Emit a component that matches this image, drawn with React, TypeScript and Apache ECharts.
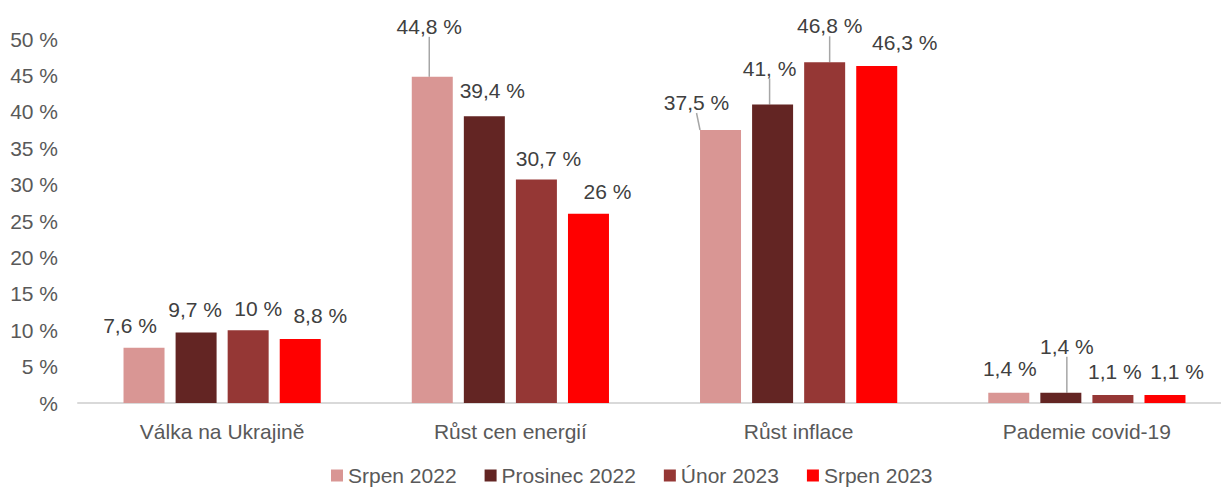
import React, { useEffect, useRef } from "react";
import * as echarts from "echarts";

const CATEGORIES = ["Válka na Ukrajině", "Růst cen energií", "Růst inflace", "Pademie covid-19"];
const SERIES_NAMES = ["Srpen 2022", "Prosinec 2022", "Únor 2023", "Srpen 2023"];
const SRPEN_2022 = [7.6, 44.8, 37.5, 1.4];
const PROSINEC_2022 = [9.7, 39.4, 41.0, 1.4];
const UNOR_2023 = [10.0, 30.7, 46.8, 1.1];
const SRPEN_2023 = [8.8, 26.0, 46.3, 1.1];
const SRPEN_2022_LABELS = ["7,6 %", "44,8 %", "37,5 %", "1,4 %"];
const PROSINEC_2022_LABELS = ["9,7 %", "39,4 %", "41, %", "1,4 %"];
const UNOR_2023_LABELS = ["10 %", "30,7 %", "46,8 %", "1,1 %"];
const SRPEN_2023_LABELS = ["8,8 %", "26 %", "46,3 %", "1,1 %"];
const Y_TICKS = [0, 5, 10, 15, 20, 25, 30, 35, 40, 45, 50];

const COLORS = ["#D99694", "#632523", "#953735", "#FF0000"];

// label displacement (dx, dy) per series / category, and which labels get a leader line
const LABEL_SHIFT = [
  [[-14, -7], [-3, -35], [-24, -12], [1, -9]],
  [[-1, -7], [8, -10], [-3, -21], [6, -31]],
  [[10, -6], [12, -6], [5, -21], [2, -8]],
  [[20, -8], [19, -7], [28, -8], [12, -8]],
];
const LEADER = [
  [false, true, true, false],
  [false, false, true, true],
  [false, false, true, false],
  [false, false, false, false],
];

export default function App() {
  const ref = useRef<HTMLDivElement>(null);
  useEffect(() => {
    if (!ref.current) return;
    const chart = echarts.init(ref.current, undefined, { renderer: "svg" });
    const values = [SRPEN_2022, PROSINEC_2022, UNOR_2023, SRPEN_2023];
    const labels = [SRPEN_2022_LABELS, PROSINEC_2022_LABELS, UNOR_2023_LABELS, SRPEN_2023_LABELS];
    const font = "Liberation Sans, Arial, sans-serif";
    const series = values.map((vals, si) => ({
      name: SERIES_NAMES[si],
      type: "bar",
      barWidth: 41,
      barGap: "27%",
      itemStyle: { color: COLORS[si] },
      data: vals.map((v, di) => ({
        value: v,
        labelLine: { show: LEADER[si][di] },
      })),
      label: {
        show: true,
        position: "top",
        distance: 5,
        color: "#404040",
        fontSize: 21,
        fontFamily: font,
        formatter: (p: any) => labels[si][p.dataIndex],
      },
      labelLine: {
        show: false,
        lineStyle: { color: "#A6A6A6", width: 1.5 },
      },
      labelLayout: (p: any) => ({
        dx: LABEL_SHIFT[si][p.dataIndex][0],
        dy: LABEL_SHIFT[si][p.dataIndex][1],
      }),
    }));
    chart.setOption({
      animation: false,
      textStyle: { fontFamily: font },
      grid: { left: 78, top: 39, right: 9, bottom: 84, containLabel: false },
      legend: {
        data: SERIES_NAMES,
        left: 326,
        top: 460,
        itemWidth: 12,
        itemHeight: 12,
        itemGap: 28,
        icon: "rect",
        textStyle: { color: "#595959", fontSize: 21, fontFamily: font },
      },
      xAxis: {
        type: "category",
        data: CATEGORIES,
        axisLine: { lineStyle: { color: "#D9D9D9", width: 2 } },
        axisTick: { show: false },
        axisLabel: { color: "#595959", fontSize: 21, fontFamily: font, margin: 18 },
      },
      yAxis: {
        type: "value",
        min: Y_TICKS[0],
        max: Y_TICKS[Y_TICKS.length - 1],
        interval: Y_TICKS[1] - Y_TICKS[0],
        splitLine: { show: false },
        axisLine: { show: false },
        axisTick: { show: false },
        axisLabel: {
          color: "#595959",
          fontSize: 21,
          fontFamily: font,
          margin: 20,
          formatter: (v: number) => (v === 0 ? "%" : `${v} %`),
        },
      },
      series,
    });
    return () => chart.dispose();
  }, []);
  return (
    <div
      style={{
        position: "absolute",
        left: 0,
        top: 0,
        width: 1221,
        height: 487,
        overflow: "hidden",
        background: "#fff",
      }}
    >
      <div ref={ref} style={{ width: 1240, height: 487 }} />
    </div>
  );
}
